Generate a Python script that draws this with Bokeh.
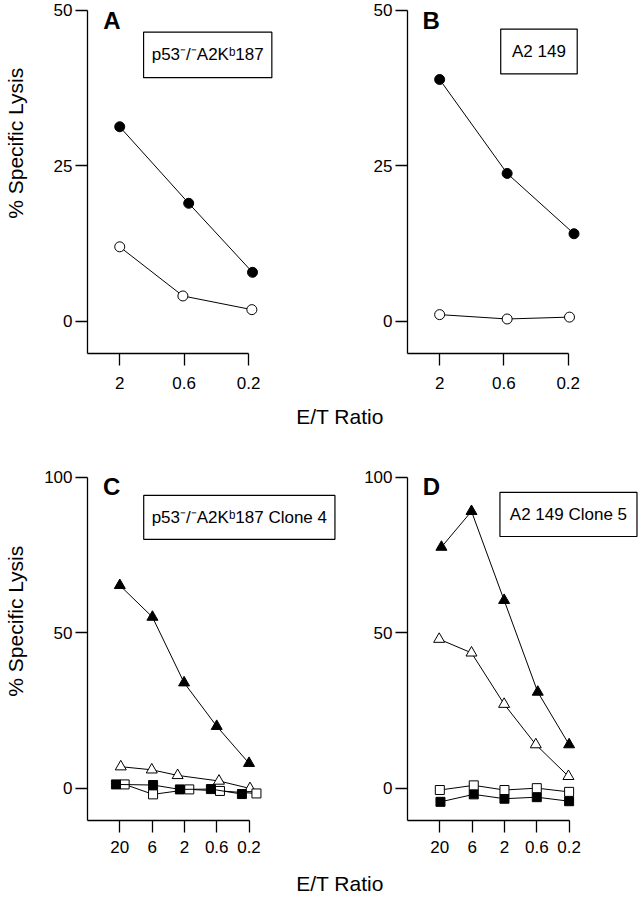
import math
from bokeh.plotting import figure
from bokeh.layouts import column, row
from bokeh.models import Range1d, FixedTicker, Label, BoxAnnotation
from bokeh.embed import file_html
from bokeh.resources import INLINE

FONT = "Liberation Sans"

# ---------------- data ----------------
et_ab = ["2", "0.6", "0.2"]
et_cd = ["20", "6", "2", "0.6", "0.2"]

# Panel A (p53-/-A2Kb187)
A_filled_x = [0.0, 1.07, 2.06]
A_filled_y = [31.3, 19.0, 7.9]
A_open_x = [0.0, 0.98, 2.05]
A_open_y = [12.0, 4.1, 1.9]

# Panel B (A2 149)
B_filled_x = [0.0, 1.05, 2.09]
B_filled_y = [38.9, 23.8, 14.1]
B_open_x = [0.0, 1.05, 2.02]
B_open_y = [1.1, 0.4, 0.7]

# Panel C (p53-/-A2Kb187 Clone 4)
C_ftri_x = [0.0, 1.01, 1.99, 3.0, 4.0]
C_ftri_y = [65.3, 55.1, 34.0, 20.0, 8.1]
C_otri_x = [0.03, 0.99, 1.79, 3.07, 4.03]
C_otri_y = [7.0, 6.0, 4.2, 2.4, 0.0]
C_fsq_x = [-0.12, 1.03, 1.86, 2.82, 3.78]
C_fsq_y = [1.3, 1.1, -0.3, -0.2, -1.8]
C_osq_x = [0.15, 1.03, 2.15, 3.10, 4.23]
C_osq_y = [1.3, -1.9, -0.3, -0.8, -1.6]

# Panel D (A2 149 Clone 5)
D_ftri_x = [0.05, 0.98, 1.99, 3.03, 4.0]
D_ftri_y = [77.6, 89.1, 60.5, 31.0, 14.1]
D_otri_x = [-0.02, 0.98, 1.99, 2.97, 3.98]
D_otri_y = [48.0, 43.6, 27.1, 14.1, 3.9]
D_fsq_x = [0.02, 1.05, 2.0, 3.0, 4.0]
D_fsq_y = [-4.3, -1.9, -3.3, -2.8, -4.1]
D_osq_x = [0.0, 1.05, 2.0, 3.0, 4.0]
D_osq_y = [-0.5, 1.0, -0.5, 0.1, -1.1]


def make_panel(width, height, xr, yr, ytop, yticks, xlabels, bl, bb, xstand):
    p = figure(width=width, height=height, x_range=Range1d(*xr), y_range=Range1d(*yr),
               output_backend="svg", toolbar_location=None,
               min_border_left=bl, min_border_right=0, min_border_top=0, min_border_bottom=bb)
    p.outline_line_color = None
    p.grid.visible = False
    p.xaxis.ticker = FixedTicker(ticks=list(range(len(xlabels))))
    p.xaxis.major_label_overrides = {i: lab for i, lab in enumerate(xlabels)}
    p.xaxis.bounds = (xr[0], len(xlabels) - 1)
    p.yaxis.ticker = FixedTicker(ticks=yticks)
    p.yaxis.bounds = (yr[0], ytop)
    for ax in (p.xaxis, p.yaxis):
        ax.minor_tick_line_color = None
        ax.major_tick_out = 12
        ax.major_tick_in = 0
        ax.axis_line_width = 1.3
        ax.major_tick_line_width = 1.3
        ax.axis_line_color = "black"
        ax.major_tick_line_color = "black"
        ax.major_label_text_font = FONT
        ax.major_label_text_font_size = "17px"
        ax.major_label_text_color = "black"
    p.xaxis.major_label_standoff = xstand
    p.yaxis.major_label_standoff = 3
    return p


def series(p, xs, ys, marker, filled, size):
    p.line(xs, ys, line_color="black", line_width=1)
    p.scatter(xs, ys, marker=marker, size=size, line_color="black", line_width=1,
              fill_color="black" if filled else "white")


def letter(p, x, y, t):
    p.add_layout(Label(x=x, y=y, text=t, text_font=FONT, text_font_style="bold",
                       text_font_size="24px", text_align="center", text_baseline="middle",
                       text_color="black"))


def boxed(p, left, right, bottom, top, t):
    p.add_layout(BoxAnnotation(left=left, right=right, bottom=bottom, top=top,
                               fill_color="white", fill_alpha=1.0,
                               line_color="black", line_width=1.2, line_alpha=1.0))
    p.add_layout(Label(x=(left + right) / 2, y=(bottom + top) / 2, text=t, text_font=FONT,
                       text_font_size="17px", text_align="center", text_baseline="middle",
                       text_color="black"))


def text_fig(width, height, tx, ty_from_top, t, angle=0.0):
    f = figure(width=width, height=height, x_range=Range1d(0, width), y_range=Range1d(0, height),
               output_backend="svg", toolbar_location=None, min_border=0,
               x_axis_type=None, y_axis_type=None)
    f.outline_line_color = None
    f.grid.visible = False
    f.add_layout(Label(x=tx, y=height - ty_from_top, text=t, angle=angle, text_font=FONT,
                       text_font_size="21px",
                       text_align="center", text_baseline="middle", text_color="black"))
    return f


# ---------------- panels ----------------
pA = make_panel(290, 398, (-0.5, 3.27), (-5.15, 51.6), 50, [0, 25, 50], et_ab, 47, 45, 11)
series(pA, A_filled_x, A_filled_y, "circle", True, 10)
series(pA, A_open_x, A_open_y, "circle", False, 10)
letter(pA, -0.12, 48.4, "A")
boxed(pA, 0.37, 2.36, 39.2, 46.5, "p53⁻/⁻A2Kᵇ187")

pB = make_panel(311, 398, (-0.5, 3.14), (-5.15, 51.6), 50, [0, 25, 50], et_ab, 77, 45, 11)
series(pB, B_filled_x, B_filled_y, "circle", True, 10)
series(pB, B_open_x, B_open_y, "circle", False, 10)
letter(pB, -0.13, 48.4, "B")
boxed(pB, 0.95, 2.14, 39.8, 47.0, "A2 149")

pC = make_panel(298, 428, (-1, 6.77), (-10.3, 113.8), 100, [0, 50, 100], et_cd, 47, 42, 8)
series(pC, C_ftri_x, C_ftri_y, "triangle", True, 11)
series(pC, C_otri_x, C_otri_y, "triangle", False, 11)
series(pC, C_osq_x, C_osq_y, "square", False, 9)
series(pC, C_fsq_x, C_fsq_y, "square", True, 9)
letter(pC, -0.25, 97.1, "C")
boxed(pC, 0.74, 6.66, 80.1, 94.2, "p53⁻/⁻A2Kᵇ187 Clone 4")

pD = make_panel(303, 428, (-1, 6.24), (-10.3, 113.8), 100, [0, 50, 100], et_cd, 69, 42, 8)
series(pD, D_ftri_x, D_ftri_y, "triangle", True, 11)
series(pD, D_otri_x, D_otri_y, "triangle", False, 11)
series(pD, D_fsq_x, D_fsq_y, "square", True, 9)
series(pD, D_osq_x, D_osq_y, "square", False, 9)
letter(pD, -0.26, 97.1, "D")
boxed(pD, 1.86, 6.10, 81.0, 95.2, "A2 149 Clone 5")

ylabA = text_fig(40, 398, 15, 161, "% Specific Lysis", angle=math.pi / 2)
ylabC = text_fig(40, 428, 15, 207, "% Specific Lysis", angle=math.pi / 2)
et1 = text_fig(641, 36, 339.5, 18, "E/T Ratio")
et2 = text_fig(641, 36, 339.5, 21, "E/T Ratio")

layout = column(row(ylabA, pA, pB), et1, row(ylabC, pC, pD), et2)

open("out.html", "w").write(file_html(layout, INLINE))
